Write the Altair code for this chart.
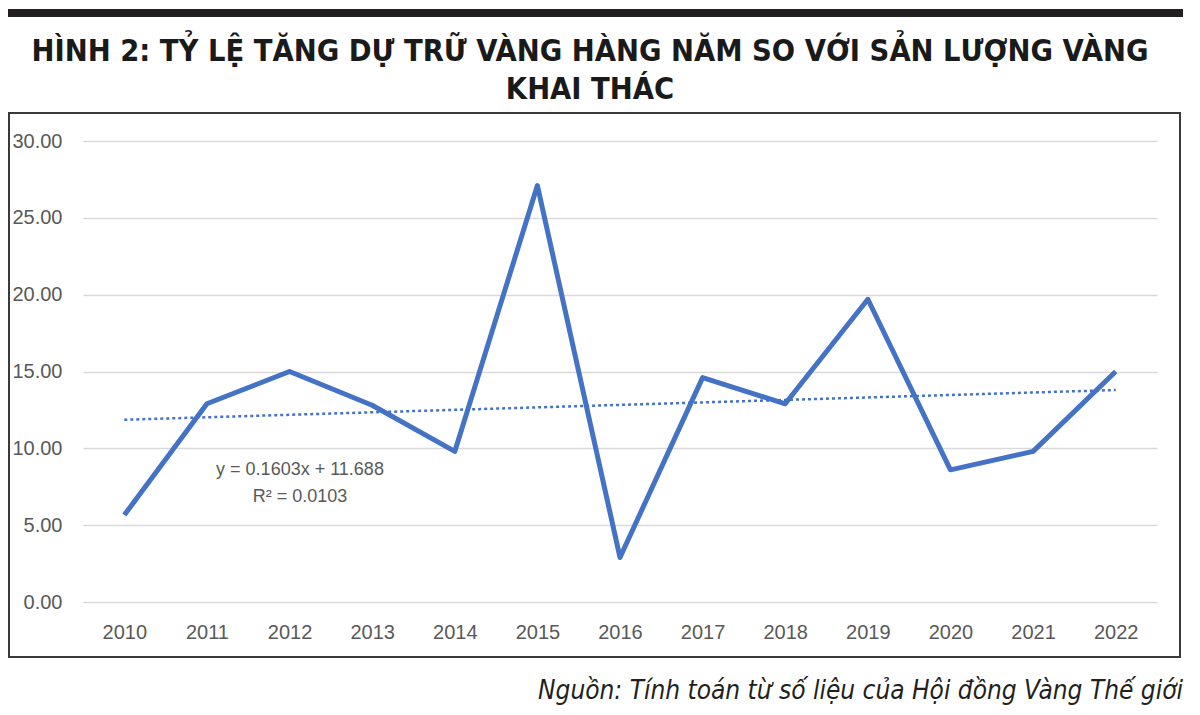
import altair as alt
import pandas as pd

years = list(range(2010, 2023))
ratios = [5.66, 12.9, 15.0, 12.8, 9.8, 27.1, 2.9, 14.6, 12.9, 19.7, 8.6, 9.8, 15.0]
y_ticks = [0, 5, 10, 15, 20, 25, 30]
title_lines = ["HÌNH 2: TỶ LỆ TĂNG DỰ TRỮ VÀNG HÀNG NĂM SO VỚI SẢN LƯỢNG VÀNG", "KHAI THÁC"]
equation_lines = ["y = 0.1603x + 11.688", "R² = 0.0103"]
source_note = "Nguồn: Tính toán từ số liệu của Hội đồng Vàng Thế giới"

df = pd.DataFrame({"year": years, "ratio": ratios})
one = pd.DataFrame({"k": [0]})

BLUE = "#4472c4"
LABEL = "#595959"
AXFONT = "Liberation Sans"
TFONT = "DejaVu Sans Condensed, sans-serif"

x_enc = alt.X(
    "year:Q",
    scale=alt.Scale(domain=[2009.5, 2022.5], nice=False, zero=False),
    axis=alt.Axis(values=years, format="d", grid=False, ticks=False, domain=False,
                  labelPadding=20, labelFont=AXFONT, labelFontSize=20,
                  labelColor=LABEL, title=None),
)
y_enc = alt.Y(
    "ratio:Q",
    scale=alt.Scale(domain=[0, 30], nice=False),
    axis=alt.Axis(values=y_ticks, format=".2f", grid=True, gridColor="#d9d9d9",
                  gridWidth=1.5, ticks=False, domain=False, labelPadding=21,
                  labelFont=AXFONT, labelFontSize=20, labelColor=LABEL, title=None),
)

top_bar = alt.Chart(one).mark_rect(color="#231f20").encode(
    x=alt.value(-75), x2=alt.value(1100), y=alt.value(-132), y2=alt.value(-124)
)
border = alt.Chart(one).mark_rect(fillOpacity=0, stroke="#3a3a3a", strokeWidth=2).encode(
    x=alt.value(-74), x2=alt.value(1097), y=alt.value(-28), y2=alt.value(516)
)
title = alt.Chart(one).mark_text(
    text=title_lines, font=TFONT, fontWeight="bold", fontSize=30.5, color="#1a1a1a",
    align="center", baseline="alphabetic", lineHeight=38
).encode(x=alt.value(507), y=alt.value(-80))

line = alt.Chart(df).mark_line(color=BLUE, strokeWidth=5, strokeJoin="round").encode(
    x=x_enc, y=y_enc
)
trend = alt.Chart(df).transform_regression("year", "ratio").mark_line(
    color=BLUE, strokeWidth=2.5, strokeDash=[3, 3]
).encode(x=x_enc, y=y_enc)

equation = alt.Chart(one).mark_text(
    text=equation_lines, font=AXFONT, fontSize=18, color=LABEL,
    align="center", baseline="alphabetic", lineHeight=27
).encode(x=alt.value(217), y=alt.value(334))

source = alt.Chart(one).mark_text(
    text=source_note, font=TFONT, fontStyle="italic", fontSize=26, color="#231f20",
    align="right", baseline="alphabetic"
).encode(x=alt.value(1100), y=alt.value(558))

chart = alt.layer(border, top_bar, title, trend, line, equation, source).properties(
    width=1074, height=461,
    autosize=alt.AutoSizeParams(type="none"),
    padding={"left": 75, "top": 133, "right": 30, "bottom": 104},
).configure_view(strokeWidth=0)

chart.save("out.html", embed_options={"renderer": "svg", "actions": False})
